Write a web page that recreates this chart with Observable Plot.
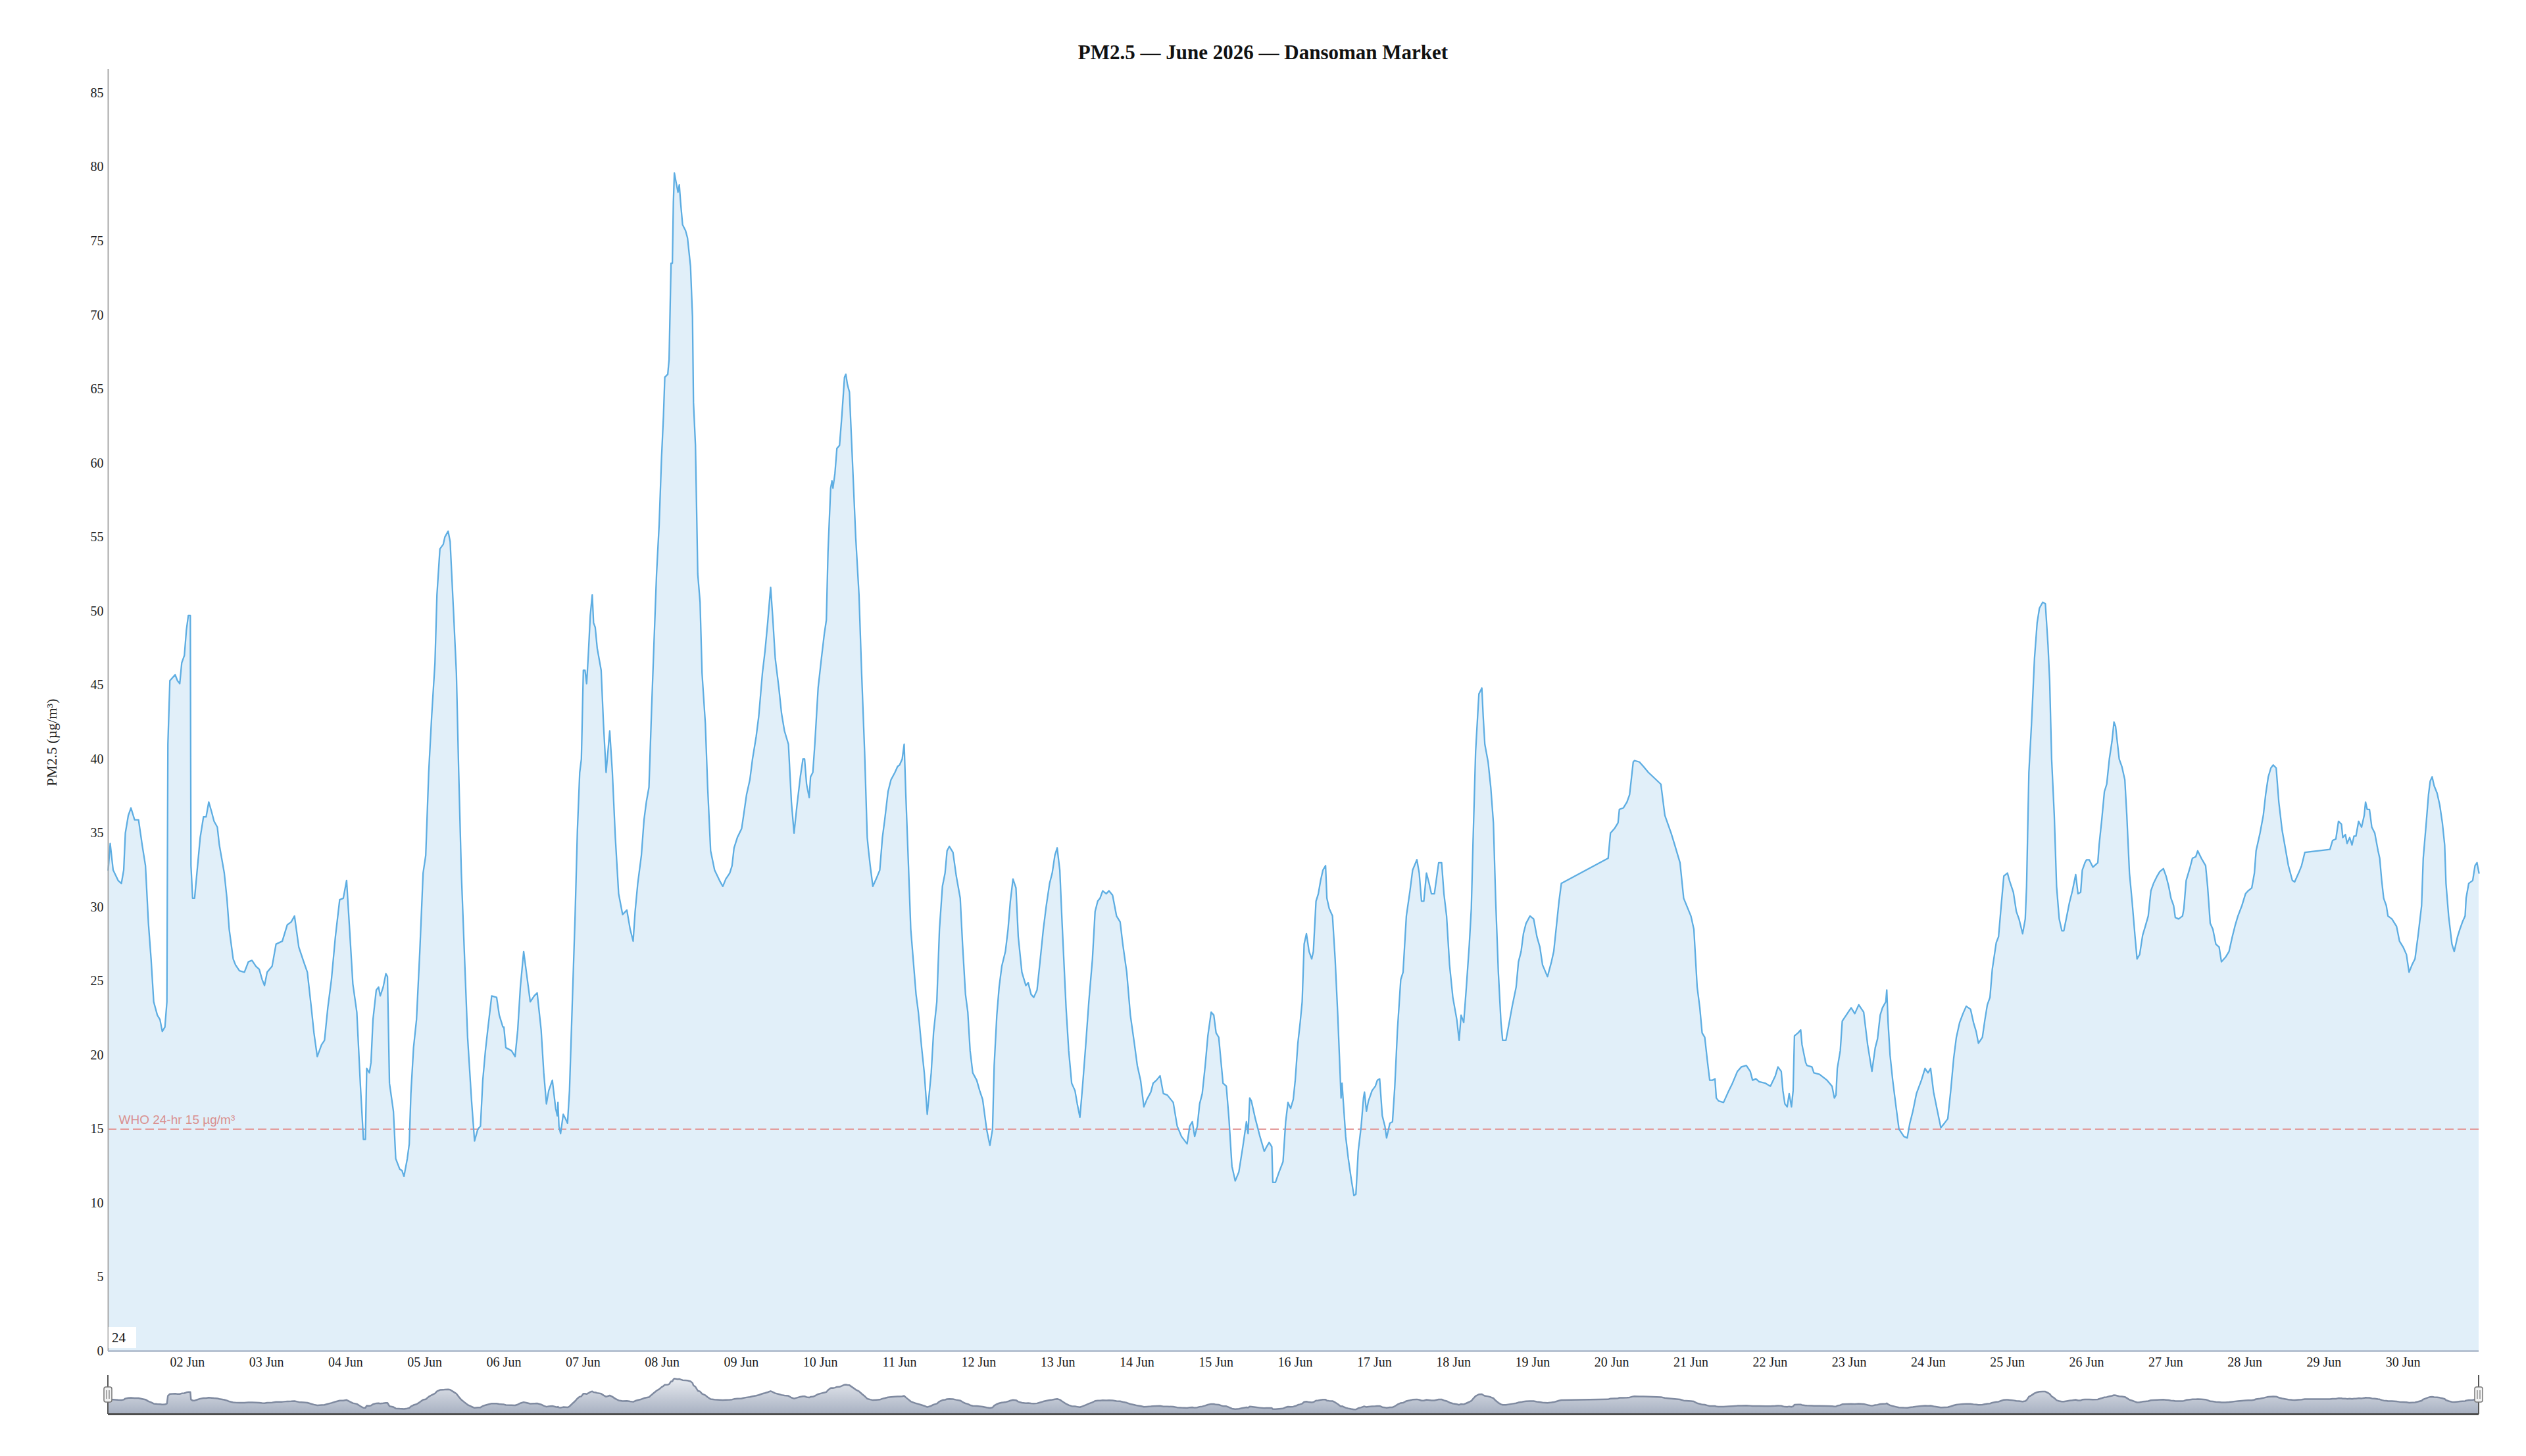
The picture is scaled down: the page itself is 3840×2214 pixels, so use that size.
<!DOCTYPE html>
<html>
<head>
<meta charset="utf-8">
<script src="https://cdn.jsdelivr.net/npm/d3@7"></script>
<script src="https://cdn.jsdelivr.net/npm/@observablehq/plot@0.6"></script>
<style>
  html, body { margin: 0; padding: 0; background: #ffffff; }
  #wrap { position: relative; width: 3840px; height: 2214px; overflow: hidden; background: #ffffff; }
  #title { position: absolute; left: 0; top: 64px; width: 3840px; text-align: center;
           font-family: "Liberation Serif", serif; font-weight: bold; font-size: 31px; line-height: 31px; color: #111; }
  #main { position: absolute; left: 0; top: 0; }
  #nav { position: absolute; left: 0; top: 2085px; }
  #range { position: absolute; left: 165px; top: 2018px; width: 42px; height: 32px; background: #ffffff;
           font-family: "Liberation Serif", serif; font-size: 21px; line-height: 32px; color: #111; padding-left: 5px; box-sizing: border-box; }
</style>
</head>
<body>
<div id="wrap">
  <div id="main"></div>
  <div id="nav"></div>
  <div id="title">PM2.5 — June 2026 — Dansoman Market</div>
  <div id="range">24</div>
</div>
<script>
// ---- data: [hours since 01 Jun 00:00 UTC, PM2.5 µg/m³] ----
const jun01_05 = [
[0,32.5],[0.6,34.3],[1.5,32.5],[3,31.8],[4,31.6],[4.7,32.5],[5.2,35.0],[6.1,36.2],[6.9,36.7],[8,35.9],[9.2,35.9],[10.3,34.2],[11.3,32.8],[12.2,28.9],[13,26.5],[13.8,23.6],[14.9,22.7],[15.7,22.4],[16.4,21.6],[17.2,21.9],[17.8,23.6],[18.1,41.0],[18.7,45.3],[20.3,45.7],[21,45.3],[21.7,45.1],[22.3,46.5],[23.1,47.0],[23.7,48.7],[24.3,49.7],[24.9,49.7],[25.1,32.8],[25.6,30.6],[26.2,30.6],[26.9,32.3],[27.9,34.7],[28.9,36.1],[29.7,36.1],[30.5,37.1],[31.4,36.4],[32.1,35.8],[33.1,35.4],[33.7,34.2],[35.2,32.3],[36,30.6],[36.7,28.5],[37.9,26.5],[38.6,26.1],[39.8,25.7],[41.3,25.6],[42.5,26.3],[43.6,26.4],[44.8,26.0],[45.8,25.8],[46.7,25.1],[47.4,24.7],[48.2,25.6],[49.7,26.0],[50.9,27.5],[52.8,27.7],[54.3,28.8],[55.5,29.0],[56.5,29.4],[57.8,27.3],[59.3,26.3],[60.4,25.6],[61.6,23.2],[62.4,21.5],[63.4,19.9],[64.7,20.7],[65.6,21.0],[66.6,23.2],[67.7,25.1],[68.9,28.0],[70.2,30.5],[71.3,30.6],[72.3,31.8],[73.1,28.9],[74.2,24.8],[75.4,22.9],[76.5,17.9],[77.4,14.3],[78,14.3],[78.4,19.1],[79.2,18.8],[79.7,19.5],[80.3,22.4],[81.3,24.4],[82,24.6],[82.5,24.0],[83.4,24.6],[84.2,25.5],[84.7,25.3],[85.3,18.1],[86.5,16.2],[87.2,13.0],[88.4,12.3],[89.1,12.2],[89.7,11.8],[90.7,13.0],[91.3,14.0],[91.8,17.4],[92.6,20.5],[93.5,22.4],[94.5,27.0],[95.5,32.3],[96.3,33.5],[97.2,39.1],[98.1,42.9],[99.1,46.5],[99.7,51.1],[100.6,54.2],[101.6,54.5],[102.1,55.0],[103.1,55.4],[103.7,54.7],[104.7,50.1],[105.6,45.8],[106.3,39.1],[107.1,32.3],[108,27.0],[109,21.2],[110.2,16.9],[111.1,14.2],[112.1,15.0],[112.9,15.2],[113.6,18.3],[114.4,20.3],[115.1,21.7],[116.3,24.0],[117.8,23.9],[118.6,22.7],[119.7,21.9]
];
const jun06_10 = [
[120,21.9],[120.6,20.5],[122.3,20.3],[123.4,19.9],[124.2,21.7],[125,24.6],[126,27.0],[127,25.3],[128,23.6],[129.2,24.0],[130.1,24.2],[131.3,21.7],[132.1,18.8],[132.9,16.7],[133.6,17.6],[134.7,18.3],[135.7,16.4],[136.2,15.9],[136.4,16.8],[136.7,15.2],[137.2,14.7],[138,16.0],[138.7,15.7],[139.3,15.4],[139.9,17.6],[140.7,23.2],[141.6,29.4],[142.3,35.2],[143,39.1],[143.5,40.0],[144.1,46.0],[144.6,46.0],[145.1,45.1],[145.6,47.0],[146.2,49.7],[146.8,51.1],[147.2,49.2],[147.7,48.9],[148.3,47.5],[149.5,46.0],[150.2,42.4],[151,39.1],[152.1,41.9],[152.9,39.1],[153.8,34.7],[154.8,30.9],[156,29.5],[157.3,29.8],[158.3,28.5],[159.2,27.7],[159.8,29.7],[160.6,31.6],[161.7,33.5],[162.5,35.9],[163.2,37.1],[164,38.1],[164.8,43.4],[165.5,47.7],[166.3,52.5],[167.1,55.9],[167.8,60.3],[168.4,63.2],[168.8,65.8],[169.7,66.0],[170.1,67.0],[170.7,73.5],[171.1,73.5],[171.4,77.6],[171.7,79.6],[172.2,79.0],[172.8,78.3],[173.2,78.8],[173.6,77.6],[174.2,76.1],[175.1,75.7],[175.7,75.2],[176.6,73.3],[177.2,69.9],[177.5,64.1],[178.1,61.2],[178.8,52.5],[179.5,50.6],[180.1,45.8],[181.1,42.4],[181.8,38.1],[182.7,33.8],[183.9,32.5],[185.4,31.8],[186.4,31.4],[187.3,31.9],[188.5,32.3],[189.2,32.8],[189.8,34.0],[190.8,34.7],[192.1,35.3],[192.7,36.2],[193.6,37.6],[194.6,38.6],[195.4,40.0],[196.5,41.5],[197.3,42.9],[198.4,45.8],[199.2,47.3],[200,49.2],[200.9,51.6],[201.5,49.7],[202.3,46.8],[203.4,44.8],[204.2,43.1],[205.1,41.9],[206.3,41.0],[207.2,37.1],[208,35.0],[208.9,36.9],[209.9,38.8],[210.7,40.0],[211.2,40.0],[211.8,38.3],[212.6,37.4],[213,38.8],[213.7,39.1],[214.3,41.0],[215.3,44.8],[216.3,46.8],[217.2,48.5],[217.8,49.4],[218.3,54.0],[219.1,58.3],[219.5,58.8],[219.8,58.3],[220.4,59.3],[221,61.0],[221.8,61.2],[222.5,63.2],[223.3,65.8],[223.7,66.0],[224.2,65.3],[224.8,64.8],[225.6,60.7],[226.7,55.0],[227.7,51.1],[228.5,45.8],[229.4,40.5],[230.2,34.7],[230.6,33.8],[231.1,32.8],[231.9,31.4],[232.9,31.9],[234,32.5],[234.8,34.7],[235.5,35.9],[236.5,37.8],[237.4,38.6],[238.6,39.1],[239.4,39.5]
];
const jun11_15 = [
[240,39.6],[240.8,40.0],[241.4,41.0],[241.9,37.6],[242.7,32.8],[243.4,28.5],[244.2,26.3],[245,24.1],[245.7,22.9],[246.7,20.5],[247.5,18.8],[248.4,16.0],[249.6,18.8],[250.3,21.5],[251.3,23.6],[252.1,28.5],[253,31.4],[253.8,32.3],[254.4,33.8],[255.1,34.1],[256.2,33.7],[257.2,32.1],[258.4,30.6],[259.1,27.5],[260,24.1],[260.7,22.9],[261.4,20.3],[262.2,18.8],[263.4,18.3],[264.3,17.6],[265.2,17.0],[266.4,15.0],[267.4,13.9],[268.2,15.0],[268.7,19.3],[269.5,22.7],[270.2,24.6],[271,26.0],[272.1,27.0],[272.9,28.5],[273.6,30.4],[274.4,31.9],[275.3,31.3],[276,28.0],[277.1,25.6],[278.3,24.7],[279,24.9],[279.9,24.1],[280.7,23.9],[281.7,24.4],[282.5,26.1],[283.6,28.5],[284.5,30.1],[285.5,31.6],[286.3,32.3],[287.1,33.5],[287.8,34.0],[288.6,32.5],[289.3,28.9],[290.5,23.2],[291.3,20.3],[292.2,18.1],[293.2,17.6],[293.9,16.7],[294.7,15.8],[295.5,17.9],[296.5,20.8],[297.4,23.6],[298.5,26.5],[299.3,29.7],[300.1,30.4],[300.8,30.6],[301.6,31.1],[302.7,30.9],[303.5,31.1],[304.6,30.8],[305.8,29.4],[306.9,29.0],[307.7,27.5],[308.9,25.6],[310,22.7],[311.2,20.8],[312.1,19.3],[313.1,18.3],[314.1,16.5],[315,17.0],[316.2,17.5],[316.9,18.1],[317.9,18.3],[319,18.6],[320,17.4],[321.2,17.3],[323,16.8],[324.2,15.2],[325.5,14.5],[327.2,14.0],[328,15.2],[328.8,15.5],[329.5,14.5],[330.3,15.2],[331,16.7],[331.8,17.4],[332.7,19.3],[333.5,21.3],[334.5,22.9],[335.3,22.7],[336,21.5],[336.8,21.2],[337.6,19.3],[338.1,18.1],[339.1,17.9],[339.9,15.7],[340.8,12.5],[341.8,11.5],[342.9,12.1],[344.1,13.8],[345.2,15.5],[345.7,14.7],[346.2,17.1],[346.7,16.9],[347.9,15.7],[349.3,14.5],[350.6,13.5],[351.3,13.8],[352.1,14.1],[352.9,13.8],[353.2,11.4],[354,11.4],[355.1,12.1],[356.3,12.8],[357.1,15.5],[357.8,16.8],[358.6,16.4],[359.4,17.0]
];
const jun16_20 = [
[360,18.3],[360.8,20.8],[361.5,22.2],[362.1,23.6],[362.7,27.5],[363.4,28.2],[364.2,27.0],[365,26.5],[365.5,27.0],[366.3,30.4],[367,30.9],[367.7,31.8],[368.4,32.5],[369.2,32.8],[369.6,30.6],[370.3,29.9],[371.3,29.4],[372.1,26.5],[372.9,22.7],[373.6,18.8],[373.9,17.1],[374.2,18.1],[374.5,17.1],[375.3,14.5],[376.1,13.0],[377,11.6],[377.8,10.5],[378.4,10.6],[379.1,13.5],[380,15.2],[380.7,17.1],[381,17.5],[381.6,16.2],[382.2,16.9],[383.3,17.6],[384.3,17.9],[384.9,18.3],[385.6,18.4],[386.4,15.9],[387.2,15.2],[387.7,14.4],[388.7,15.4],[389.5,15.5],[390.2,17.9],[391,21.7],[392,25.1],[392.7,25.6],[393.7,29.4],[394.8,31.1],[395.6,32.5],[396.9,33.2],[397.6,32.3],[398.3,30.4],[399,30.4],[399.8,32.3],[400.6,31.6],[401.3,30.9],[402.2,30.9],[403.5,33.0],[404.4,33.0],[405.1,30.9],[405.9,29.4],[406.8,26.1],[407.8,23.9],[409,22.4],[409.7,21.0],[410.3,22.7],[411.1,22.2],[411.9,24.6],[412.8,27.5],[413.4,29.9],[413.9,34.2],[414.7,40.5],[415.7,44.4],[416.6,44.8],[417,42.9],[417.5,41.0],[418.5,39.8],[419.3,38.1],[420.1,35.7],[420.8,30.4],[421.6,25.6],[422.4,22.2],[422.9,21.0],[423.9,21.0],[424.9,22.2],[425.8,23.3],[427,24.6],[427.7,26.3],[428.5,27.0],[429.2,28.2],[430,28.9],[431.2,29.4],[432.3,29.2],[433.3,28.0],[434.2,27.3],[435,26.1],[436.5,25.3],[437.7,26.3],[438.4,27.0],[439.2,28.7],[440,30.4],[440.7,31.6],[454.9,33.3],[455.6,35.0],[456.8,35.3],[457.9,35.7],[458.3,36.6],[459.5,36.7],[460.6,37.1],[461.4,37.6],[462.5,39.8],[462.9,39.9],[464.4,39.8],[465.6,39.5],[467.1,39.1],[470.9,38.3],[472.1,36.2],[474,35.0],[475.1,34.2],[476.7,33.0],[477.8,30.6]
];
const jun21_25 = [
[480,29.4],[480.9,28.5],[481.9,24.6],[482.7,23.2],[483.4,21.5],[484.2,21.2],[485,19.6],[485.7,18.3],[486.5,18.3],[487.3,18.4],[487.7,17.1],[488.4,16.9],[489.9,16.8],[491.5,17.6],[492.6,18.1],[494.1,18.9],[495.3,19.2],[496.8,19.3],[498,18.9],[498.7,18.3],[499.7,18.4],[500.7,18.2],[502.6,18.1],[504.1,17.9],[505.6,18.6],[506.4,19.2],[507.4,18.9],[507.9,17.6],[508.5,16.7],[509.2,16.5],[509.8,17.4],[510.5,16.5],[511,17.6],[511.4,21.3],[512.5,21.5],[513.3,21.7],[513.7,20.7],[514.8,19.5],[515.2,19.3],[516.7,19.2],[517.3,18.8],[519,18.7],[521.3,18.3],[522.8,17.9],[523.5,17.1],[524,17.3],[524.4,19.1],[525.3,20.3],[525.9,22.3],[527.1,22.7],[528.6,23.2],[529.7,22.8],[530.9,23.4],[532.4,22.9],[533.6,20.7],[534.9,18.9],[535.9,20.5],[536.6,21.1],[537.4,22.7],[538.1,23.2],[539.1,23.6],[539.4,24.4],[539.8,22.2],[540.4,20.0],[541.2,18.3],[542.1,16.7],[543.1,15.0],[544.6,14.5],[545.6,14.4],[546.4,15.4],[547.3,16.2],[548.4,17.4],[549.9,18.3],[551,19.1],[551.9,18.8],[552.7,19.1],[553.6,17.5],[554.6,16.4],[555.8,15.1],[556.9,15.4],[557.9,15.7],[558.8,17.6],[559.7,19.8],[560.5,21.2],[561.5,22.2],[562.5,22.8],[563.5,23.3],[564.8,23.1],[565.7,22.2],[566.5,21.6],[567.2,20.8],[568.4,21.2],[569.1,22.3],[569.9,23.4],[570.7,23.9],[571.4,25.8],[572.6,27.6],[573.3,28.0],[574.1,30.1],[574.9,32.1],[576,32.3],[576.6,31.8],[577.8,31.0],[578.7,29.7],[579.5,29.2],[580.6,28.2],[581.4,29.2],[581.8,31.4],[582.5,39.1],[583.3,42.4],[584.2,46.8],[585,49.2],[585.7,50.2],[586.7,50.6],[587.5,50.5],[588.3,47.7],[588.8,45.3],[589.4,40.0],[590.2,36.2],[590.9,31.4],[591.7,29.2],[592.5,28.4],[593.1,28.4],[594,29.4],[594.8,30.3],[595.7,31.1],[596.7,32.2],[597.4,30.9],[598.2,31.0],[598.7,32.5],[599.5,33.0]
];
const jun26_30 = [
[600,33.2],[600.8,33.2],[601.9,32.7],[603.4,33.0],[603.8,34.2],[604.6,35.9],[605.4,37.8],[606.1,38.3],[606.9,40.0],[607.7,41.2],[608.3,42.5],[608.8,42.2],[609.9,40.0],[610.7,39.5],[611.6,38.6],[612.2,36.2],[613,32.3],[613.8,30.4],[614.7,28.0],[615.3,26.5],[616.1,26.8],[617,28.1],[617.8,28.7],[618.7,29.4],[619.5,31.1],[620.3,31.6],[621.4,32.1],[622.2,32.4],[623.3,32.6],[624.1,32.1],[624.9,31.4],[625.6,30.6],[626.4,30.1],[626.9,29.3],[627.9,29.2],[629.1,29.4],[629.5,29.9],[630.2,31.8],[631.4,32.7],[632.1,33.3],[633.1,33.4],[633.7,33.8],[634.8,33.3],[636.1,32.8],[636.7,31.4],[637.5,28.9],[638.3,28.5],[639.2,27.5],[640.2,27.3],[640.9,26.3],[642.1,26.6],[643.2,27.0],[644.2,28.0],[645.1,28.8],[645.9,29.4],[647.1,30.1],[648.2,30.9],[649,31.1],[650.1,31.3],[650.9,32.3],[651.4,33.8],[652.6,35.0],[653.6,36.2],[654.3,37.6],[655.1,38.8],[655.9,39.4],[656.6,39.6],[657.5,39.4],[658.3,37.1],[659.3,35.2],[660.1,34.2],[661.2,32.8],[662.4,31.8],[663.1,31.7],[664.3,32.3],[665.2,32.8],[666.2,33.7],[673.8,33.9],[674.6,34.5],[675.6,34.6],[676.4,35.8],[677.3,35.6],[677.7,34.7],[678.5,34.9],[679,34.3],[679.8,34.7],[680.5,34.2],[681.1,34.8],[681.7,34.8],[682.5,35.8],[683.4,35.4],[684.2,36.2],[684.6,37.1],[685.1,36.6],[685.8,36.6],[686.5,35.4],[687.4,35.0],[688.4,33.8],[688.9,33.3],[689.5,31.8],[690.1,30.6],[690.9,30.1],[691.4,29.4],[692.6,29.2],[694,28.7],[694.9,27.7],[696,27.3],[697,26.8],[697.8,25.6],[698.7,26.1],[699.6,26.5],[700.6,28.2],[701.6,30.1],[702.1,33.3],[702.9,35.4],[703.7,37.6],[704.2,38.5],[704.8,38.8],[705.4,38.2],[706.3,37.7],[707.1,36.9],[707.9,35.7],[708.6,34.2],[709,31.6],[709.8,29.4],[710.8,27.5],[711.5,27.0],[712.5,28.0],[713.2,28.5],[714,29.0],[714.8,29.4],[715.1,30.6],[715.9,31.6],[716.5,31.7],[717.1,31.8],[717.8,32.8],[718.4,33.0],[719,32.3]
];

const tickDays = [2,3,4,5,6,7,8,9,10,11,12,13,14,15,16,17,18,19,20,21,22,23,24,25,26,27,28,29,30];
const yTicks = [0,5,10,15,20,25,30,35,40,45,50,55,60,65,70,75,80,85];
const whoLimit = 15;
const whoLabel = "WHO 24-hr 15 µg/m³";
const yLabel = "PM2.5 (µg/m³)";

// ---- build table ----
const t0 = Date.UTC(2026, 5, 1);
const toDate = (h) => new Date(t0 + h * 3600e3);
const readings = [...jun01_05, ...jun06_10, ...jun11_15, ...jun16_20, ...jun21_25, ...jun26_30]
  .map(([h, v]) => ({time: toDate(h), pm25: v}));
const xStart = toDate(0), xEnd = toDate(719);
const xDomain = [xStart, xEnd];
const yDomain = [0, 86.6];
const tickDates = tickDays.map((d) => new Date(Date.UTC(2026, 5, d)));

const serif = '"Liberation Serif", "Times New Roman", serif';
const sans = '"Liberation Sans", Arial, sans-serif';

const main = Plot.plot({
  width: 3840,
  height: 2090,
  marginTop: 105,
  marginBottom: 36,
  marginLeft: 164,
  marginRight: 72,
  style: {fontFamily: serif, fontSize: "20px", color: "#1a1a1a", background: "transparent"},
  x: {type: "utc", domain: xDomain},
  y: {domain: yDomain},
  marks: [
    Plot.areaY(readings, {x: "time", y: "pm25", fill: "#e1eff9"}),
    Plot.ruleY([whoLimit], {stroke: "#e39c9c", strokeWidth: 2, strokeDasharray: "13,6"}),
    Plot.lineY(readings, {x: "time", y: "pm25", stroke: "#5dade2", strokeWidth: 2.3}),
    Plot.text([whoLabel], {x: () => xStart, y: () => whoLimit, text: (d) => d, dx: 16, dy: -14,
      textAnchor: "start", fill: "#d98f8f", fontFamily: sans, fontSize: 19}),
    Plot.axisY({ticks: yTicks, tickSize: 0, tickPadding: 7, label: null, fontSize: 20, fontFamily: serif}),
    Plot.axisX({ticks: tickDates, tickFormat: d3.utcFormat("%d %b"), tickSize: 0, tickPadding: 9,
      label: null, fontSize: 20, fontFamily: serif}),
    Plot.ruleX([xStart], {stroke: "#a8a8a8", strokeWidth: 2}),
    Plot.ruleY([0], {stroke: "#a9b6c8", strokeWidth: 2.5}),
    Plot.text([yLabel], {frameAnchor: "left", text: (d) => d, rotate: -90, dx: -86, dy: 49,
      textAnchor: "middle", fontFamily: serif, fontSize: 22, fill: "#1a1a1a"})
  ]
});
document.getElementById("main").appendChild(main);

// ---- navigator ----
const NS = "http://www.w3.org/2000/svg";
function el(name, attrs) {
  const e = document.createElementNS(NS, name);
  for (const k in attrs) e.setAttribute(k, attrs[k]);
  return e;
}
function navGradient() {
  const defs = el("defs", {});
  const lg = el("linearGradient", {id: "navFill", x1: 0, y1: 0, x2: 0, y2: 1});
  lg.appendChild(el("stop", {offset: "0", "stop-color": "#e8ebf0"}));
  lg.appendChild(el("stop", {offset: "1", "stop-color": "#a7b0c1"}));
  defs.appendChild(lg);
  return defs;
}
function navHandles(index, scales, values, dimensions) {
  const g = el("g", {});
  const yTop = dimensions.marginTop;
  const yBot = dimensions.height - dimensions.marginBottom;
  for (const d of [xStart, xEnd]) {
    const cx = scales.x(d);
    g.appendChild(el("line", {x1: cx, x2: cx, y1: yTop, y2: yBot, stroke: "#555", "stroke-width": 2}));
    g.appendChild(el("rect", {x: cx - 6, y: yTop + 18, width: 12, height: 23, rx: 3, ry: 3,
      fill: "#f2f2f2", stroke: "#777", "stroke-width": 1.5}));
    g.appendChild(el("line", {x1: cx - 2, x2: cx - 2, y1: yTop + 23, y2: yTop + 36, stroke: "#777", "stroke-width": 1.2}));
    g.appendChild(el("line", {x1: cx + 2, x2: cx + 2, y1: yTop + 23, y2: yTop + 36, stroke: "#777", "stroke-width": 1.2}));
  }
  return g;
}
const nav = Plot.plot({
  width: 3840,
  height: 70,
  marginTop: 6,
  marginBottom: 5,
  marginLeft: 164,
  marginRight: 72,
  style: {background: "transparent"},
  x: {type: "utc", domain: xDomain, axis: null},
  y: {domain: yDomain, axis: null},
  marks: [
    navGradient,
    Plot.areaY(readings, {x: "time", y: "pm25", fill: "url(#navFill)"}),
    Plot.lineY(readings, {x: "time", y: "pm25", stroke: "#7f8aa0", strokeWidth: 2.5}),
    Plot.ruleY([0], {stroke: "#4d4d4d", strokeWidth: 3}),
    navHandles
  ]
});
document.getElementById("nav").appendChild(nav);
</script>
</body>
</html>
